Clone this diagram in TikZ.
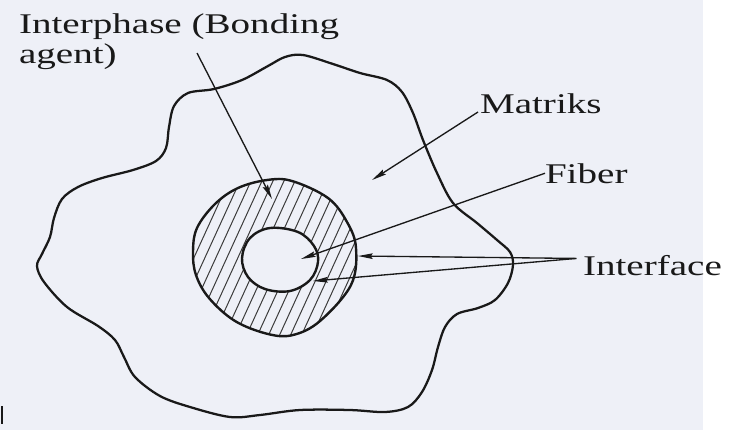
\documentclass[tikz,border=0pt]{standalone}
\usepackage{fontspec}
\setmainfont{Liberation Serif}[FakeStretch=1.37]
\usetikzlibrary{arrows.meta}
\definecolor{bgpaper}{RGB}{238,240,247}
\definecolor{inkc}{RGB}{25,25,25}
\begin{document}
\begin{tikzpicture}[x=0.75pt,y=-0.75pt,
  lbl/.style={inner sep=0pt,outer sep=0pt,text=inkc,font=\fontsize{21.4pt}{22.5pt}\selectfont},
  blobline/.style={draw=inkc,line width=1.7pt,line join=round},
  ringline/.style={draw=inkc,line width=1.8pt,line join=round},
  hatchline/.style={draw=inkc!85,line width=0.75pt},
  ptr/.style={draw=inkc,line width=1pt,-{Stealth[length=11pt,width=4.2pt,inset=1.5pt]}}]
\useasboundingbox (0,0) rectangle (745,437);
\fill[white] (0,0) rectangle (745,437);
\fill[bgpaper] (0,0) rectangle (703,430);
% matrix outline
\draw[blobline] plot[smooth cycle,tension=0.55] coordinates {
 (303,55) (333,64) (360,73) (387,80) (402,92) (413,113) (423,140) (437,173)
 (453,203) (477,223) (497,240) (510,252) (513,265) (508,283) (495,300)
 (478,308) (457,314) (445,327) (438,347) (432,370) (422,392) (408,407)
 (385,412) (350,410) (300,410) (260,415) (230,417) (190,407) (160,396)
 (135,377) (124,357) (115,340) (98,326) (67,307) (44,282) (37,266)
 (42,254) (50,237) (54,218) (62,199) (78,187) (102,178) (133,170)
 (156,161) (166,148) (169,127) (174,106) (188,93) (214,89) (242,80)
 (268,66) (285,57)};
% hatching of interphase ring
\begin{scope}[even odd rule]
\clip
 plot[smooth cycle,tension=0.6] coordinates {
  (193,252) (197,228) (215,204) (238,188) (267,180) (292,181) (328,198)
  (347,222) (356,248) (351,285) (320,321) (293,335) (268,334) (235,321)
  (209,298) (196,275)}
 plot[smooth cycle,tension=0.6] coordinates {
  (242,258) (250,238) (270,228) (298,232) (314,246) (318,262) (310,280)
  (290,291) (265,289) (248,277)};
\foreach \i in {0,...,28} \draw[hatchline] (110+\i*11,345) -- ++(80,-175);
\end{scope}
\draw[ringline] plot[smooth cycle,tension=0.6] coordinates {
  (193,252) (197,228) (215,204) (238,188) (267,180) (292,181) (328,198)
  (347,222) (356,248) (351,285) (320,321) (293,335) (268,334) (235,321)
  (209,298) (196,275)};
\draw[ringline] plot[smooth cycle,tension=0.6] coordinates {
  (242,258) (250,238) (270,228) (298,232) (314,246) (318,262) (310,280)
  (290,291) (265,289) (248,277)};
% labels
\node[lbl,anchor=base west,align=left] (interphase) at (19,63) {Interphase (Bonding\\agent)};
\node[lbl,anchor=base west] (matriks) at (480,113) {Matriks};
\node[lbl,anchor=base west] (fiber) at (545,183) {Fiber};
\node[lbl,anchor=base west] (interface) at (583,275) {Interface};
% connector ends
\coordinate (ipS) at (197,53);
\coordinate (ipE) at (272,199);
\coordinate (mtE) at (372,180);
\coordinate (fbE) at (301,259);
\coordinate (ifS) at ([xshift=-5pt,yshift=5pt]interface.west);
\coordinate (ifA) at (358,256);
\coordinate (ifB) at (313,281);
% arrows
\draw[ptr] (ipS) -- (ipE);
\draw[ptr] ([xshift=-1.5pt,yshift=0.75pt]matriks.base west) -- (mtE);
\draw[ptr] (fiber.west) -- (fbE);
\draw[ptr] (ifS) -- (ifA);
\draw[ptr] (ifS) -- (ifB);
% small mark at lower left
\draw[draw=inkc,line width=2pt] (2,406) -- (2,424);
\end{tikzpicture}
\end{document}
